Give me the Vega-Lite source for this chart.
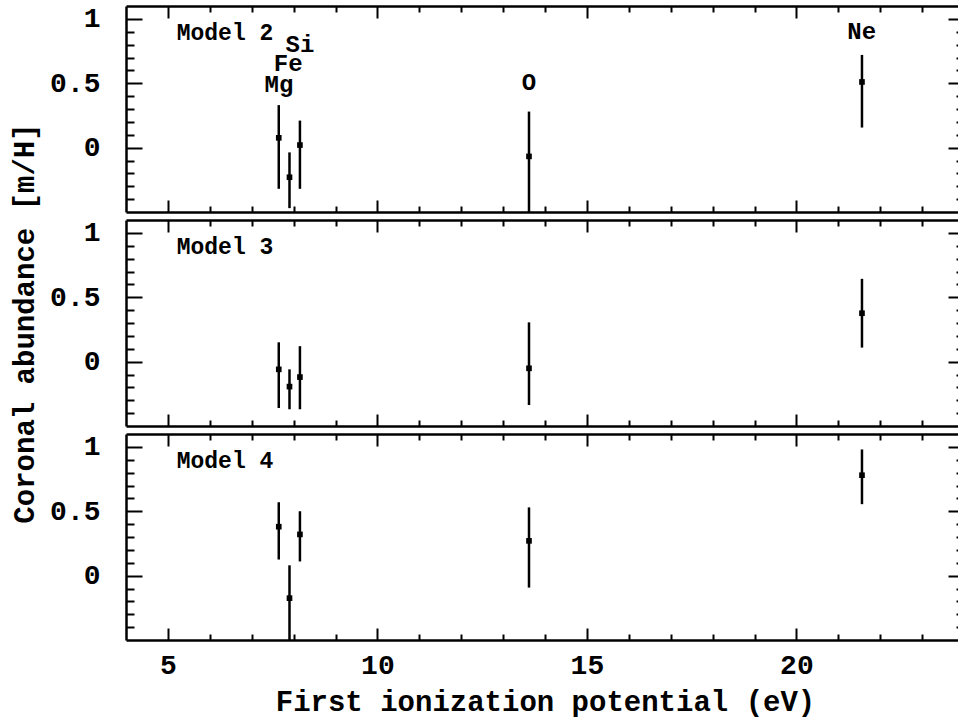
{
  "$schema": "https://vega.github.io/schema/vega-lite/v6.json",
  "padding": {"left": 10, "top": 4, "right": 0, "bottom": 2},
  "background": "white",
  "spacing": 8,
  "bounds": "flush",
  "config": {
    "view": {"stroke": null},
    "axis": {
      "grid": false,
      "domainColor": "black",
      "tickColor": "black",
      "labelColor": "black",
      "titleColor": "black",
      "labelFont": "Liberation Mono",
      "titleFont": "Liberation Mono",
      "labelFontWeight": "bold",
      "titleFontWeight": "bold",
      "labelFontSize": 28,
      "titleFontSize": 29,
      "domainWidth": 2.5,
      "tickWidth": 2,
      "labelOverlap": false,
      "labelBound": false,
      "labelFlush": false
    }
  },
  "datasets": {
    "pts": [
      {"model": "Model 2", "el": "Mg", "fip": 7.646, "val": 0.076, "lo": -0.32, "hi": 0.33},
      {"model": "Model 2", "el": "Fe", "fip": 7.902, "val": -0.23, "lo": -0.47, "hi": -0.037},
      {"model": "Model 2", "el": "Si", "fip": 8.151, "val": 0.02, "lo": -0.32, "hi": 0.21},
      {"model": "Model 2", "el": "O", "fip": 13.618, "val": -0.068, "lo": -0.5, "hi": 0.28},
      {"model": "Model 2", "el": "Ne", "fip": 21.565, "val": 0.51, "lo": 0.156, "hi": 0.72},
      {"model": "Model 3", "el": "Mg", "fip": 7.646, "val": -0.06, "lo": -0.36, "hi": 0.15},
      {"model": "Model 3", "el": "Fe", "fip": 7.902, "val": -0.194, "lo": -0.37, "hi": -0.06},
      {"model": "Model 3", "el": "Si", "fip": 8.151, "val": -0.12, "lo": -0.37, "hi": 0.12},
      {"model": "Model 3", "el": "O", "fip": 13.618, "val": -0.052, "lo": -0.337, "hi": 0.305},
      {"model": "Model 3", "el": "Ne", "fip": 21.565, "val": 0.376, "lo": 0.109, "hi": 0.643},
      {"model": "Model 4", "el": "Mg", "fip": 7.646, "val": 0.38, "lo": 0.125, "hi": 0.57},
      {"model": "Model 4", "el": "Fe", "fip": 7.902, "val": -0.175, "lo": -0.5, "hi": 0.08},
      {"model": "Model 4", "el": "Si", "fip": 8.151, "val": 0.32, "lo": 0.11, "hi": 0.5},
      {"model": "Model 4", "el": "O", "fip": 13.618, "val": 0.27, "lo": -0.093, "hi": 0.53},
      {"model": "Model 4", "el": "Ne", "fip": 21.565, "val": 0.78, "lo": 0.555, "hi": 0.98}
    ],
    "labs": [
      {"model": "Model 2", "kind": "model", "text": "Model 2", "x": 5.21, "y": 0.89},
      {"model": "Model 3", "kind": "model", "text": "Model 3", "x": 5.21, "y": 0.89},
      {"model": "Model 4", "kind": "model", "text": "Model 4", "x": 5.21, "y": 0.89},
      {"model": "Model 2", "kind": "el", "text": "Mg", "x": 7.65, "y": 0.49},
      {"model": "Model 2", "kind": "el", "text": "Fe", "x": 7.87, "y": 0.65},
      {"model": "Model 2", "kind": "el", "text": "Si", "x": 8.15, "y": 0.8},
      {"model": "Model 2", "kind": "el", "text": "O", "x": 13.62, "y": 0.5},
      {"model": "Model 2", "kind": "el", "text": "Ne", "x": 21.56, "y": 0.895}
    ]
  },
  "vconcat": [
    {
      "width": 838, "height": 206,
      "layer": [
        {
          "data": {"name": "pts"},
          "transform": [{"filter": "datum.model == 'Model 2'"}],
          "mark": {"type": "rule", "strokeWidth": 2.5, "color": "black"},
          "encoding": {
            "x": {"field": "fip", "type": "quantitative", "scale": {"domain": [4, 24], "nice": false, "zero": false},
              "axis": {"orient": "bottom", "values": [5,6,7,8,9,10,11,12,13,14,15,16,17,18,19,20,21,22,23], "tickSize": {"condition": {"test": "datum.value % 5 === 0", "value": -12}, "value": -6}, "labels": false, "title": null}},
            "y": {"field": "lo", "type": "quantitative", "scale": {"domain": [-0.5, 1.1], "nice": false, "zero": false},
              "axis": {"orient": "left", "values": [-0.4,-0.3,-0.2,-0.1,0,0.1,0.2,0.3,0.4,0.5,0.6,0.7,0.8,0.9,1.0], "tickSize": {"condition": {"test": "abs(datum.value*2 - round(datum.value*2)) < 0.01", "value": -16}, "value": -8}, "labelPadding": 42, "labelExpr": "abs(datum.value) < 0.01 ? '0' : abs(datum.value-0.5) < 0.01 ? '0.5' : abs(datum.value-1) < 0.01 ? '1' : ''", "title": null}},
            "y2": {"field": "hi"}
          }
        },
        {
          "data": {"name": "pts"},
          "transform": [{"filter": "datum.model == 'Model 2'"}],
          "mark": {"type": "square", "size": 32, "filled": true, "color": "black", "opacity": 1},
          "encoding": {
            "x": {"field": "fip", "type": "quantitative",
              "axis": {"orient": "top", "values": [5,6,7,8,9,10,11,12,13,14,15,16,17,18,19,20,21,22,23], "tickSize": {"condition": {"test": "datum.value % 5 === 0", "value": -12}, "value": -6}, "labels": false, "title": null}},
            "y": {"field": "val", "type": "quantitative",
              "axis": {"orient": "right", "values": [-0.4,-0.3,-0.2,-0.1,0,0.1,0.2,0.3,0.4,0.5,0.6,0.7,0.8,0.9,1.0], "tickSize": {"condition": {"test": "abs(datum.value*2 - round(datum.value*2)) < 0.01", "value": -16}, "value": -8}, "labels": false, "title": null}}
          }
        },
        {
          "data": {"name": "labs"},
          "transform": [{"filter": "datum.model == 'Model 2' && datum.kind == 'model'"}],
          "mark": {"type": "text", "align": "left", "baseline": "middle", "font": "Liberation Mono", "fontWeight": "bold", "fontSize": 23, "color": "black"},
          "encoding": {
            "x": {"field": "x", "type": "quantitative", "axis": null},
            "y": {"field": "y", "type": "quantitative", "axis": null},
            "text": {"field": "text"}
          }
        },
        {
          "data": {"name": "labs"},
          "transform": [{"filter": "datum.model == 'Model 2' && datum.kind == 'el'"}],
          "mark": {"type": "text", "align": "center", "baseline": "middle", "font": "Liberation Mono", "fontWeight": "bold", "fontSize": 24, "color": "black"},
          "encoding": {
            "x": {"field": "x", "type": "quantitative", "axis": null},
            "y": {"field": "y", "type": "quantitative", "axis": null},
            "text": {"field": "text"}
          }
        }
      ],
      "resolve": {"axis": {"x": "independent", "y": "independent"}}
    },
    {
      "width": 838, "height": 206,
      "layer": [
        {
          "data": {"name": "pts"},
          "transform": [{"filter": "datum.model == 'Model 3'"}],
          "mark": {"type": "rule", "strokeWidth": 2.5, "color": "black"},
          "encoding": {
            "x": {"field": "fip", "type": "quantitative", "scale": {"domain": [4, 24], "nice": false, "zero": false},
              "axis": {"orient": "bottom", "values": [5,6,7,8,9,10,11,12,13,14,15,16,17,18,19,20,21,22,23], "tickSize": {"condition": {"test": "datum.value % 5 === 0", "value": -12}, "value": -6}, "labels": false, "title": null}},
            "y": {"field": "lo", "type": "quantitative", "scale": {"domain": [-0.5, 1.1], "nice": false, "zero": false},
              "axis": {"orient": "left", "values": [-0.4,-0.3,-0.2,-0.1,0,0.1,0.2,0.3,0.4,0.5,0.6,0.7,0.8,0.9,1.0], "tickSize": {"condition": {"test": "abs(datum.value*2 - round(datum.value*2)) < 0.01", "value": -16}, "value": -8}, "labelPadding": 42, "labelExpr": "abs(datum.value) < 0.01 ? '0' : abs(datum.value-0.5) < 0.01 ? '0.5' : abs(datum.value-1) < 0.01 ? '1' : ''", "title": "Coronal abundance [m/H]", "titlePadding": 10}},
            "y2": {"field": "hi"}
          }
        },
        {
          "data": {"name": "pts"},
          "transform": [{"filter": "datum.model == 'Model 3'"}],
          "mark": {"type": "square", "size": 32, "filled": true, "color": "black", "opacity": 1},
          "encoding": {
            "x": {"field": "fip", "type": "quantitative",
              "axis": {"orient": "top", "values": [5,6,7,8,9,10,11,12,13,14,15,16,17,18,19,20,21,22,23], "tickSize": {"condition": {"test": "datum.value % 5 === 0", "value": -12}, "value": -6}, "labels": false, "title": null}},
            "y": {"field": "val", "type": "quantitative",
              "axis": {"orient": "right", "values": [-0.4,-0.3,-0.2,-0.1,0,0.1,0.2,0.3,0.4,0.5,0.6,0.7,0.8,0.9,1.0], "tickSize": {"condition": {"test": "abs(datum.value*2 - round(datum.value*2)) < 0.01", "value": -16}, "value": -8}, "labels": false, "title": null}}
          }
        },
        {
          "data": {"name": "labs"},
          "transform": [{"filter": "datum.model == 'Model 3' && datum.kind == 'model'"}],
          "mark": {"type": "text", "align": "left", "baseline": "middle", "font": "Liberation Mono", "fontWeight": "bold", "fontSize": 23, "color": "black"},
          "encoding": {
            "x": {"field": "x", "type": "quantitative", "axis": null},
            "y": {"field": "y", "type": "quantitative", "axis": null},
            "text": {"field": "text"}
          }
        }
      ],
      "resolve": {"axis": {"x": "independent", "y": "independent"}}
    },
    {
      "width": 838, "height": 206,
      "layer": [
        {
          "data": {"name": "pts"},
          "transform": [{"filter": "datum.model == 'Model 4'"}],
          "mark": {"type": "rule", "strokeWidth": 2.5, "color": "black"},
          "encoding": {
            "x": {"field": "fip", "type": "quantitative", "scale": {"domain": [4, 24], "nice": false, "zero": false},
              "axis": {"orient": "bottom", "values": [5,6,7,8,9,10,11,12,13,14,15,16,17,18,19,20,21,22,23], "tickSize": {"condition": {"test": "datum.value % 5 === 0", "value": -12}, "value": -6}, "labelPadding": 23, "labelExpr": "datum.value % 5 === 0 ? datum.label : ''", "title": "First ionization potential (eV)", "titlePadding": 2}},
            "y": {"field": "lo", "type": "quantitative", "scale": {"domain": [-0.5, 1.1], "nice": false, "zero": false},
              "axis": {"orient": "left", "values": [-0.4,-0.3,-0.2,-0.1,0,0.1,0.2,0.3,0.4,0.5,0.6,0.7,0.8,0.9,1.0], "tickSize": {"condition": {"test": "abs(datum.value*2 - round(datum.value*2)) < 0.01", "value": -16}, "value": -8}, "labelPadding": 42, "labelExpr": "abs(datum.value) < 0.01 ? '0' : abs(datum.value-0.5) < 0.01 ? '0.5' : abs(datum.value-1) < 0.01 ? '1' : ''", "title": null}},
            "y2": {"field": "hi"}
          }
        },
        {
          "data": {"name": "pts"},
          "transform": [{"filter": "datum.model == 'Model 4'"}],
          "mark": {"type": "square", "size": 32, "filled": true, "color": "black", "opacity": 1},
          "encoding": {
            "x": {"field": "fip", "type": "quantitative",
              "axis": {"orient": "top", "values": [5,6,7,8,9,10,11,12,13,14,15,16,17,18,19,20,21,22,23], "tickSize": {"condition": {"test": "datum.value % 5 === 0", "value": -12}, "value": -6}, "labels": false, "title": null}},
            "y": {"field": "val", "type": "quantitative",
              "axis": {"orient": "right", "values": [-0.4,-0.3,-0.2,-0.1,0,0.1,0.2,0.3,0.4,0.5,0.6,0.7,0.8,0.9,1.0], "tickSize": {"condition": {"test": "abs(datum.value*2 - round(datum.value*2)) < 0.01", "value": -16}, "value": -8}, "labels": false, "title": null}}
          }
        },
        {
          "data": {"name": "labs"},
          "transform": [{"filter": "datum.model == 'Model 4' && datum.kind == 'model'"}],
          "mark": {"type": "text", "align": "left", "baseline": "middle", "font": "Liberation Mono", "fontWeight": "bold", "fontSize": 23, "color": "black"},
          "encoding": {
            "x": {"field": "x", "type": "quantitative", "axis": null},
            "y": {"field": "y", "type": "quantitative", "axis": null},
            "text": {"field": "text"}
          }
        }
      ],
      "resolve": {"axis": {"x": "independent", "y": "independent"}}
    }
  ]
}
